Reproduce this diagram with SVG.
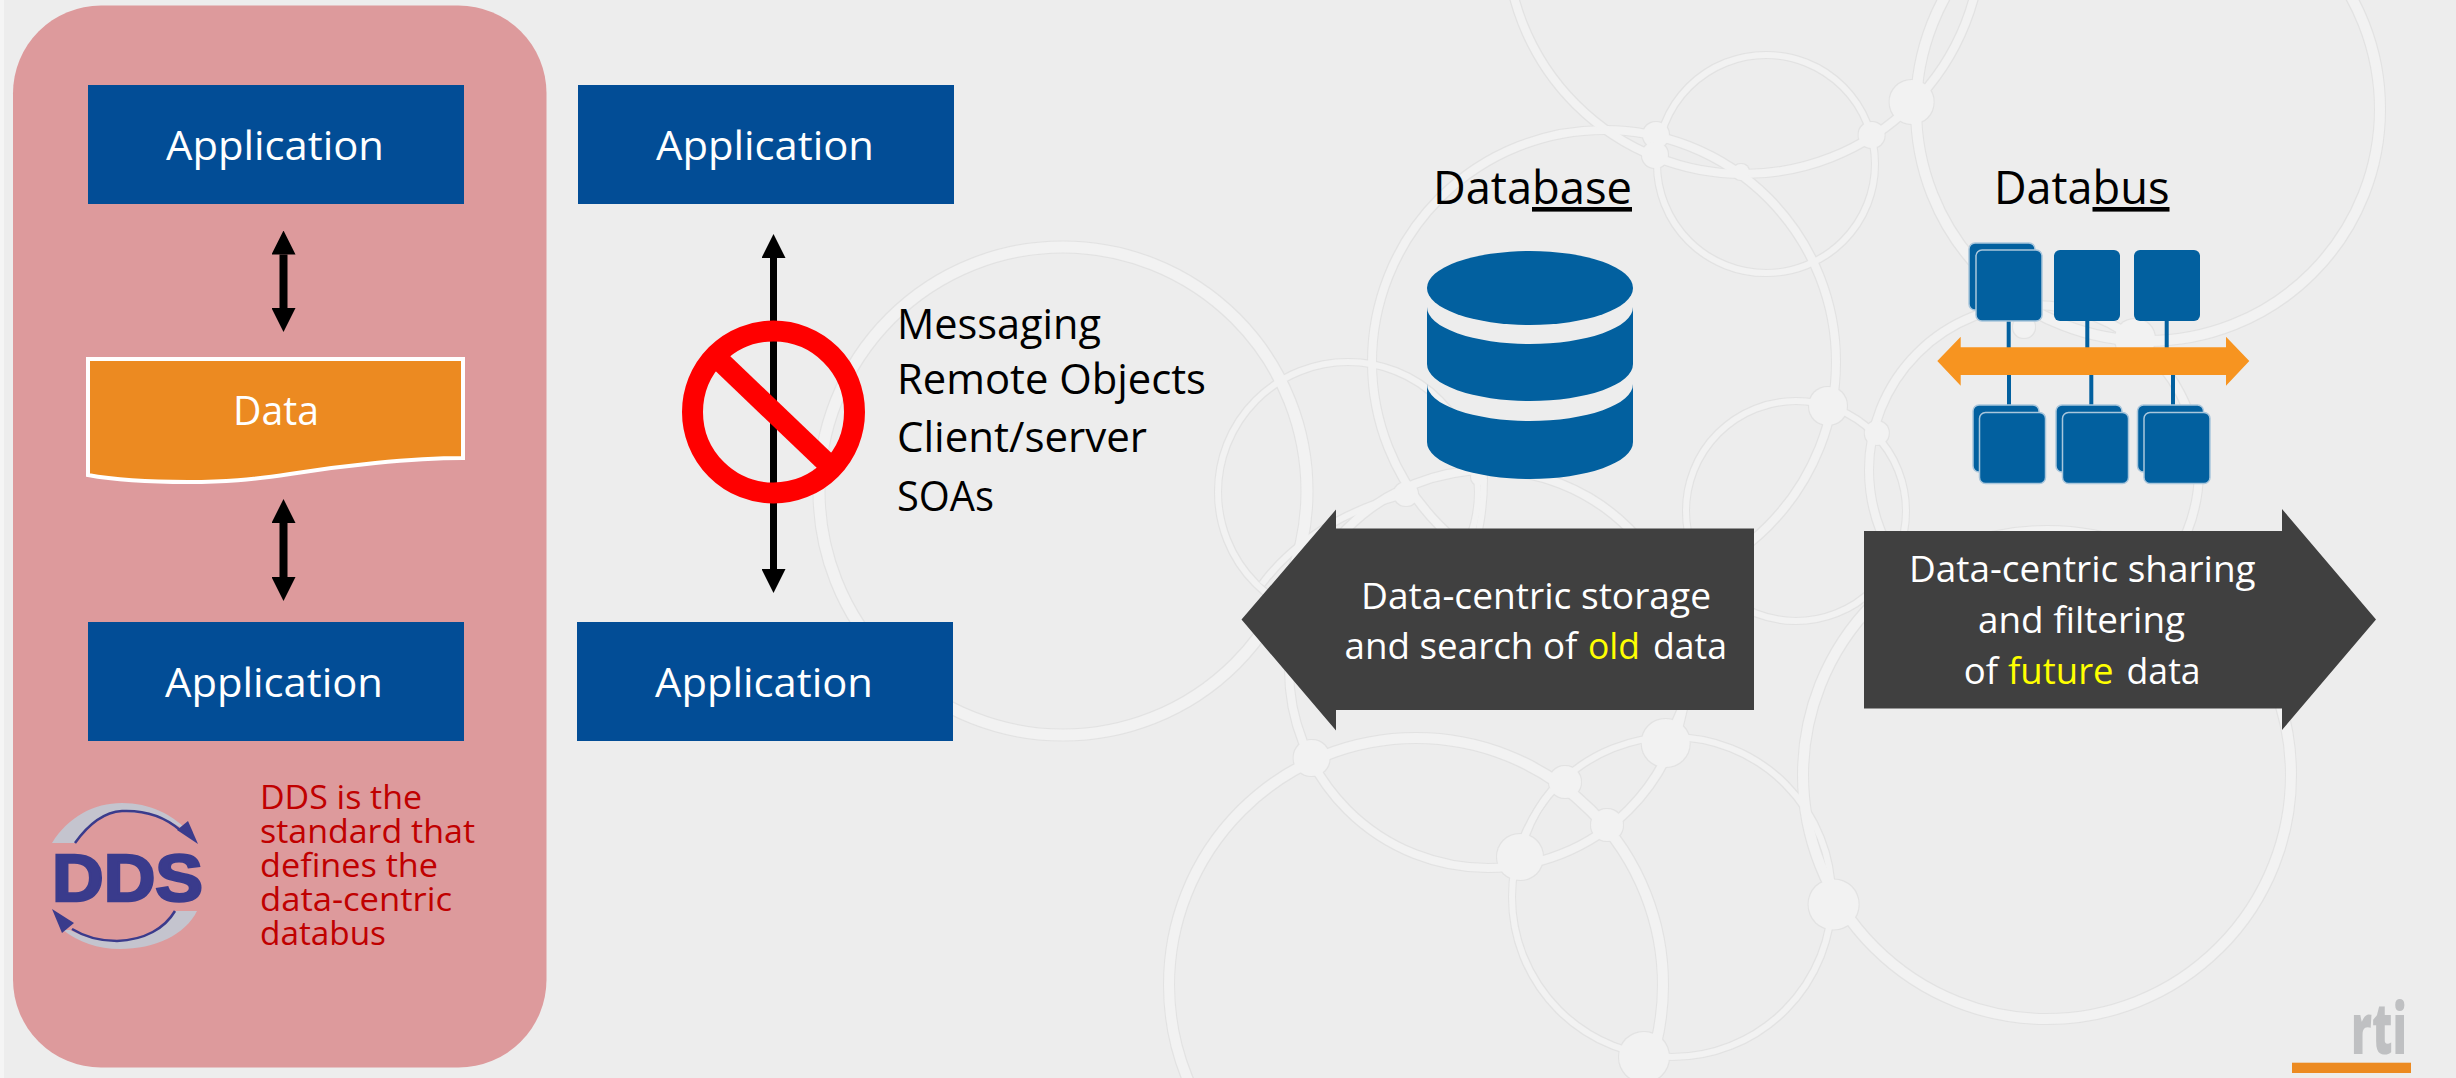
<svg xmlns="http://www.w3.org/2000/svg" width="2456" height="1078" viewBox="0 0 2456 1078">
<style>
text{font-family:"Open Sans","Noto Sans","Liberation Sans",sans-serif}
.app{fill:#024D96}
.t41{font-size:41px}
.t46{font-size:46px}
.t42{font-size:42px}
.wh{fill:#fff}
.k{fill:#000}
.a36{font-size:36px;fill:#fff}
.y{fill:#FFFF00}
.dds{font-size:32px;fill:#C00000}
.u{text-decoration:underline;text-decoration-thickness:3px;text-underline-offset:5px}
.cyl{fill:#02609F}
.icb{fill:#02609F;stroke:#A9C6DC;stroke-width:1.5}
.lk{stroke:#02609F;stroke-width:4;fill:none}
.n6{stroke-width:6}.n8{stroke-width:8}.n10{stroke-width:10}.n11{stroke-width:11}
#net circle,#net path{fill:none;stroke:#F2F2F2}
#net .nd{fill:#F2F2F2;stroke:none}
</style>
<defs>
<marker id="hd" viewBox="0 -12 24 24" refX="0" refY="0" markerWidth="24" markerHeight="24" markerUnits="userSpaceOnUse" orient="auto-start-reverse"><path d="M0,-12L24,0L0,12Z" fill="#000"/></marker>
<filter id="edge" x="0" y="0" width="2456" height="1078" filterUnits="userSpaceOnUse"><feMorphology in="SourceAlpha" operator="dilate" radius="0.5" result="d"/><feFlood flood-color="#E2E2E2"/><feComposite in2="d" operator="in" result="o"/><feMerge><feMergeNode in="o"/><feMergeNode in="SourceGraphic"/></feMerge></filter>
</defs>
<rect width="2456" height="1078" fill="#EDEDED"/>
<rect width="4" height="1078" fill="#F5F5F5"/>
<g id="net" filter="url(#edge)">
<circle class="n11" cx="1063" cy="491" r="244"/>
<circle class="n6" cx="1348" cy="492" r="130"/>
<circle class="n8" cx="1604" cy="362" r="232"/>
<circle class="n10" cx="2148" cy="109" r="232"/>
<circle class="n8" cx="1744" cy="-64" r="238"/>
<circle class="n6" cx="1766" cy="164" r="109"/>
<circle class="n6" cx="1796" cy="511" r="110"/>
<circle class="n10" cx="2047" cy="775" r="244"/>
<circle class="n8" cx="2034" cy="470" r="165"/>
<circle class="n10" cx="1416" cy="985" r="247"/>
<circle class="n8" cx="1488" cy="669" r="199"/>
<circle class="n6" cx="1672" cy="897" r="160"/>
<path class="n6" d="M1262,584Q1310,520 1406,494"/>
<path class="n6" d="M1484,479Q1484,505 1479,530"/>
<path class="n6" d="M1552,790Q1535,810 1526,835"/>
<path class="n6" d="M1666,743L1685,700"/>
<circle class="nd" cx="1311.600" cy="758" r="18"/>
<circle class="nd" cx="1565" cy="782" r="16"/>
<circle class="nd" cx="1607" cy="825" r="16"/>
<circle class="nd" cx="1520" cy="857" r="23"/>
<circle class="nd" cx="1644" cy="1057" r="25"/>
<circle class="nd" cx="1665.700" cy="743" r="24"/>
<circle class="nd" cx="1833.600" cy="904.500" r="25"/>
<circle class="nd" cx="1911.600" cy="102" r="22"/>
<circle class="nd" cx="1871.600" cy="135" r="13"/>
<circle class="nd" cx="1656" cy="135" r="13"/>
<circle class="nd" cx="1655" cy="155" r="13"/>
<circle class="nd" cx="1741" cy="172" r="8"/>
<circle class="nd" cx="1828" cy="406" r="19"/>
<circle class="nd" cx="1876.800" cy="433" r="12"/>
<circle class="nd" cx="2135" cy="339" r="20"/>
<circle class="nd" cx="2024" cy="327" r="11"/>
<circle class="nd" cx="1406" cy="494" r="12"/>
<circle class="nd" cx="1479" cy="477" r="8"/>
</g>
<g id="pink-panel"><rect x="13" y="5.500" width="533.500" height="1062" rx="88" ry="88" fill="#DD9A9C"/></g>
<g id="app-1"><rect class="app" x="88" y="85" width="376" height="119"/><text class="t41 wh" x="166" y="160" textLength="218" lengthAdjust="spacingAndGlyphs">Application</text></g>
<g id="app-2"><rect class="app" x="578" y="85" width="376" height="119"/><text class="t41 wh" x="656" y="160" textLength="218" lengthAdjust="spacingAndGlyphs">Application</text></g>
<g id="app-3"><rect class="app" x="88" y="622" width="376" height="119"/><text class="t41 wh" x="165" y="697" textLength="218" lengthAdjust="spacingAndGlyphs">Application</text></g>
<g id="app-4"><rect class="app" x="577" y="622" width="376" height="119"/><text class="t41 wh" x="655" y="697" textLength="218" lengthAdjust="spacingAndGlyphs">Application</text></g>
<g id="data"><path d="M88,359H463V458C410,458 340,466 290,474C250,480 225,482 188,482C150,482 115,480 88,475Z" fill="#EC8A21" stroke="#fff" stroke-width="4"/><text class="t41 wh" x="233" y="424.500" textLength="86" lengthAdjust="spacingAndGlyphs">Data</text></g>
<g id="connectors" stroke="#000" fill="none">
<line x1="283.500" y1="254.500" x2="283.500" y2="308" stroke-width="8" marker-start="url(#hd)" marker-end="url(#hd)"/>
<line x1="283.500" y1="523" x2="283.500" y2="577" stroke-width="8" marker-start="url(#hd)" marker-end="url(#hd)"/>
<line x1="773.500" y1="258" x2="773.500" y2="569" stroke-width="7" marker-start="url(#hd)" marker-end="url(#hd)"/>
</g>
<g id="no-sign" fill="none" stroke="#FF0000" stroke-width="21"><circle cx="773.500" cy="412" r="81"/><line x1="716" y1="357" x2="831" y2="467"/></g>
<g id="styles-list"><text class="t42 k" x="897" y="339" textLength="204" lengthAdjust="spacingAndGlyphs">Messaging</text><text class="t42 k" x="897" y="394" textLength="309" lengthAdjust="spacingAndGlyphs">Remote Objects</text><text class="t42 k" x="897" y="452" textLength="250" lengthAdjust="spacingAndGlyphs">Client/server</text><text class="t42 k" x="897" y="511" textLength="97" lengthAdjust="spacingAndGlyphs">SOAs</text></g>
<g id="dds-logo">
<path d="M52,843C68,817 94,803 122,803C150,803 172,815 186,829L178,826C160,815 142,812 122,812C102,812 88,825 75,843Z" fill="#C4C4CE"/>
<path d="M75,843C90,822 105,812 122,811C145,810 165,817 180,830" fill="none" stroke="#3A3B8C" stroke-width="2.500"/>
<path d="M198,844L177,830L188,821Z" fill="#3A3B8C"/>
<path d="M197,911C185,935 155,949 120,949C98,949 78,942 63,930L70,930C85,938 100,941 117,941C145,941 165,928 175,911Z" fill="#C4C4CE"/>
<path d="M175,911C165,928 145,940 117,941C100,941 85,937 72,929" fill="none" stroke="#3A3B8C" stroke-width="2.500"/>
<path d="M52,909L62,933L74,923Z" fill="#3A3B8C"/>
<text x="52" y="901" textLength="151" lengthAdjust="spacingAndGlyphs" style="font-family:'Liberation Sans',Arial,sans-serif;font-weight:700;font-size:66px;fill:#3A3B8C;stroke:#3A3B8C;stroke-width:2.500">DDS</text>
</g>
<g id="dds-note"><text class="dds" x="260" y="809" textLength="162" lengthAdjust="spacingAndGlyphs">DDS is the</text><text class="dds" x="260" y="843" textLength="215" lengthAdjust="spacingAndGlyphs">standard that</text><text class="dds" x="260" y="877" textLength="178" lengthAdjust="spacingAndGlyphs">defines the</text><text class="dds" x="260" y="911" textLength="192" lengthAdjust="spacingAndGlyphs">data-centric</text><text class="dds" x="260" y="945" textLength="126" lengthAdjust="spacingAndGlyphs">databus</text></g>
<g id="database"><text class="t46 k" y="204"><tspan x="1433" textLength="99" lengthAdjust="spacingAndGlyphs">Data</tspan><tspan class="u" x="1532" textLength="100" lengthAdjust="spacingAndGlyphs">base</tspan></text>
<path class="cyl" d="M1427,288A103,37 0 0 1 1633,288A103,37 0 0 1 1427,288Z"/>
<path class="cyl" d="M1427,307A103,37 0 0 0 1633,307V364A103,37 0 0 1 1427,364Z"/>
<path class="cyl" d="M1427,384A103,37 0 0 0 1633,384V442A103,37 0 0 1 1427,442Z"/></g>
<g id="databus"><text class="t46 k" y="204"><tspan x="1994" textLength="98.500" lengthAdjust="spacingAndGlyphs">Data</tspan><tspan class="u" x="2092.500" textLength="77" lengthAdjust="spacingAndGlyphs">bus</tspan></text>
<path class="lk" d="M2008.700,320V350M2087.300,320V350M2166.700,320V350M2009,375V405M2091.300,375V405M2173,375V405"/>
<rect class="icb" x="1969" y="243" width="66" height="67" rx="6"/><rect class="icb" x="1976" y="250" width="66" height="71" rx="6"/>
<rect class="cyl" x="2054" y="250" width="66" height="71" rx="6"/><rect class="cyl" x="2134" y="250" width="66" height="71" rx="6"/>
<rect class="icb" x="1973" y="405" width="66" height="67" rx="6"/><rect class="icb" x="1979.500" y="412.500" width="66" height="71" rx="6"/>
<rect class="icb" x="2056" y="405" width="66" height="67" rx="6"/><rect class="icb" x="2062.500" y="412.500" width="66" height="71" rx="6"/>
<rect class="icb" x="2137.500" y="405" width="66" height="67" rx="6"/><rect class="icb" x="2144" y="412.500" width="66" height="71" rx="6"/>
<path d="M1937.300,361L1960.700,336.700V347.300H2226V336.700L2249.300,361L2226,385.700V375H1960.700V385.700Z" fill="#F79420"/></g>
<g id="arrow-old"><path d="M1241.500,619.600L1336,509.600V528.600H1754V710H1336V730.500Z" fill="#404040"/>
<text class="a36" y="608.500" x="1361" textLength="350" lengthAdjust="spacingAndGlyphs">Data-centric storage</text>
<text class="a36" y="659"><tspan x="1344.500" textLength="233" lengthAdjust="spacingAndGlyphs">and search of</tspan><tspan class="y" x="1588" textLength="52" lengthAdjust="spacingAndGlyphs">old</tspan><tspan x="1653" textLength="74" lengthAdjust="spacingAndGlyphs">data</tspan></text></g>
<g id="arrow-future"><path d="M1864,531H2282V509L2376,619.600L2282,730V708.500H1864Z" fill="#404040"/>
<text class="a36" x="1909" y="582" textLength="346.600" lengthAdjust="spacingAndGlyphs">Data-centric sharing</text>
<text class="a36" x="1978" y="633" textLength="207" lengthAdjust="spacingAndGlyphs">and filtering</text>
<text class="a36" y="683.500"><tspan x="1963.700" textLength="34.300" lengthAdjust="spacingAndGlyphs">of</tspan><tspan class="y" x="2008" textLength="105.600" lengthAdjust="spacingAndGlyphs">future</tspan><tspan x="2126.600" textLength="74" lengthAdjust="spacingAndGlyphs">data</tspan></text></g>
<g id="rti-logo"><rect x="2292" y="1062.700" width="119" height="10.300" fill="#EC8A21"/><text x="2351" y="1054" textLength="56" lengthAdjust="spacingAndGlyphs" style="font-weight:800;font-size:70px;fill:#BFC0C2">rti</text></g>
</svg>
